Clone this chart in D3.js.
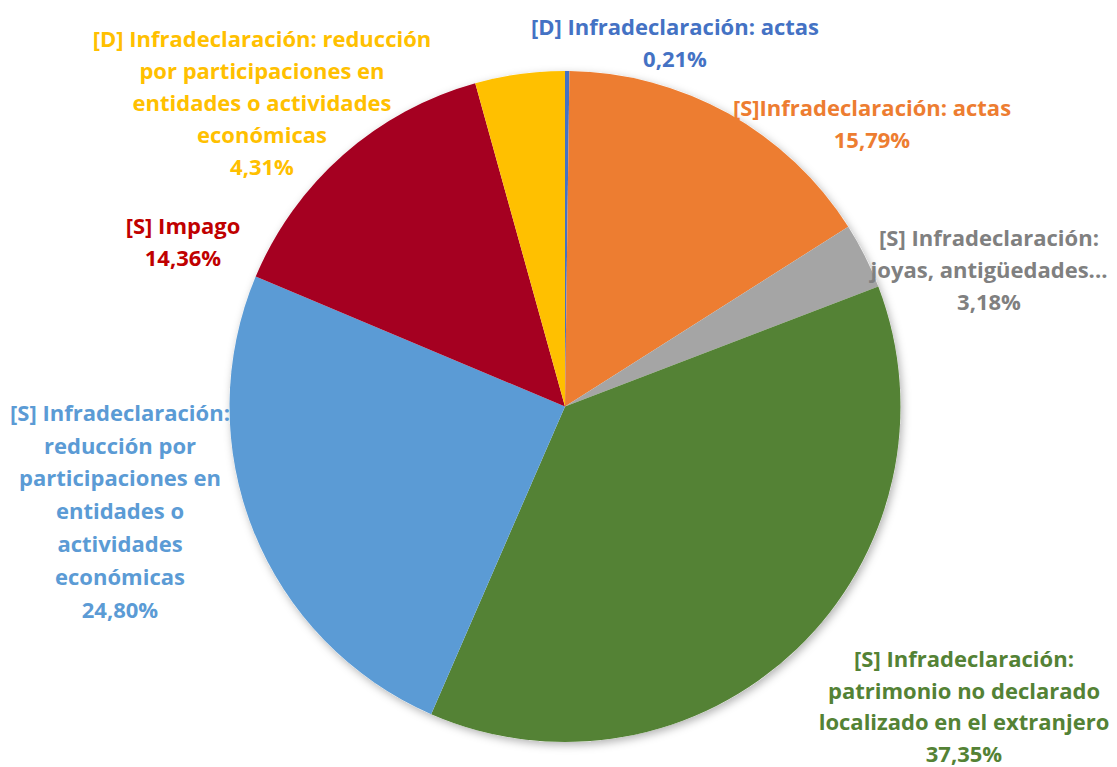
<!DOCTYPE html>
<html><head><meta charset="utf-8">
<script src="https://cdn.jsdelivr.net/npm/d3@7"></script>
<style>
html,body{margin:0;padding:0;background:#fff;}
svg{display:block;}
text{font-family:"Open Sans",Lato,sans-serif;font-weight:700;}
</style></head>
<body>
<svg id="chart" width="1117" height="767"></svg>
<script>
const categories = [
  ["[D] Infradeclaración: actas"],
  ["[S]Infradeclaración: actas"],
  ["[S] Infradeclaración:", "joyas, antigüedades..."],
  ["[S] Infradeclaración:", "patrimonio no declarado", "localizado en el extranjero"],
  ["[S] Infradeclaración:", "reducción por", "participaciones en", "entidades o", "actividades", "económicas"],
  ["[S] Impago"],
  ["[D] Infradeclaración: reducción", "por participaciones en", "entidades o actividades", "económicas"]
];
const values = [0.21, 15.79, 3.18, 37.35, 24.80, 14.36, 4.31];
const valueLabels = ["0,21%", "15,79%", "3,18%", "37,35%", "24,80%", "14,36%", "4,31%"];
const sliceColors = ["#4472C4", "#ED7D31", "#A5A5A5", "#548235", "#5B9BD5", "#A50021", "#FFC000"];
const textColors  = ["#4472C4", "#ED7D31", "#808080", "#548235", "#5B9BD5", "#C00000", "#FFC000"];
// label anchor (centre x, first line centre y, line height)
const labelPos = [[675, 27, 32], [872, 108, 32], [989, 238, 32], [964, 659, 31.8], [120, 413, 32.8], [183, 226, 32], [262, 39, 32]];

const svg = d3.select("#chart");
const cx = 565, cy = 406.5, r = 335.5;

const defs = svg.append("defs");
const f = defs.append("filter").attr("id","sh").attr("x","-10%").attr("y","-10%").attr("width","120%").attr("height","120%");
f.append("feDropShadow").attr("dx",2).attr("dy",3).attr("stdDeviation",4).attr("flood-color","#000").attr("flood-opacity",0.3);

const pie = d3.pie().sort(null).value(d => d)(values);
const arc = d3.arc().innerRadius(0).outerRadius(r);

const g = svg.append("g").attr("transform", `translate(${cx},${cy})`);
g.append("circle").attr("r", r).attr("fill", "#fff").attr("filter", "url(#sh)");
g.selectAll("path").data(pie).join("path")
  .attr("d", arc)
  .attr("fill", (d,i) => sliceColors[i]);

categories.forEach((lines, i) => {
  const all = lines.concat([valueLabels[i]]);
  const [lx, ly, lh] = labelPos[i];
  const t = svg.append("text")
    .attr("text-anchor", "middle")
    .attr("fill", textColors[i])
    .attr("font-size", 22);
  all.forEach((s, j) => {
    t.append("tspan").attr("x", lx).attr("y", ly + j*lh)
      .attr("dy", "0.35em").text(s);
  });
});
</script>
</body></html>
